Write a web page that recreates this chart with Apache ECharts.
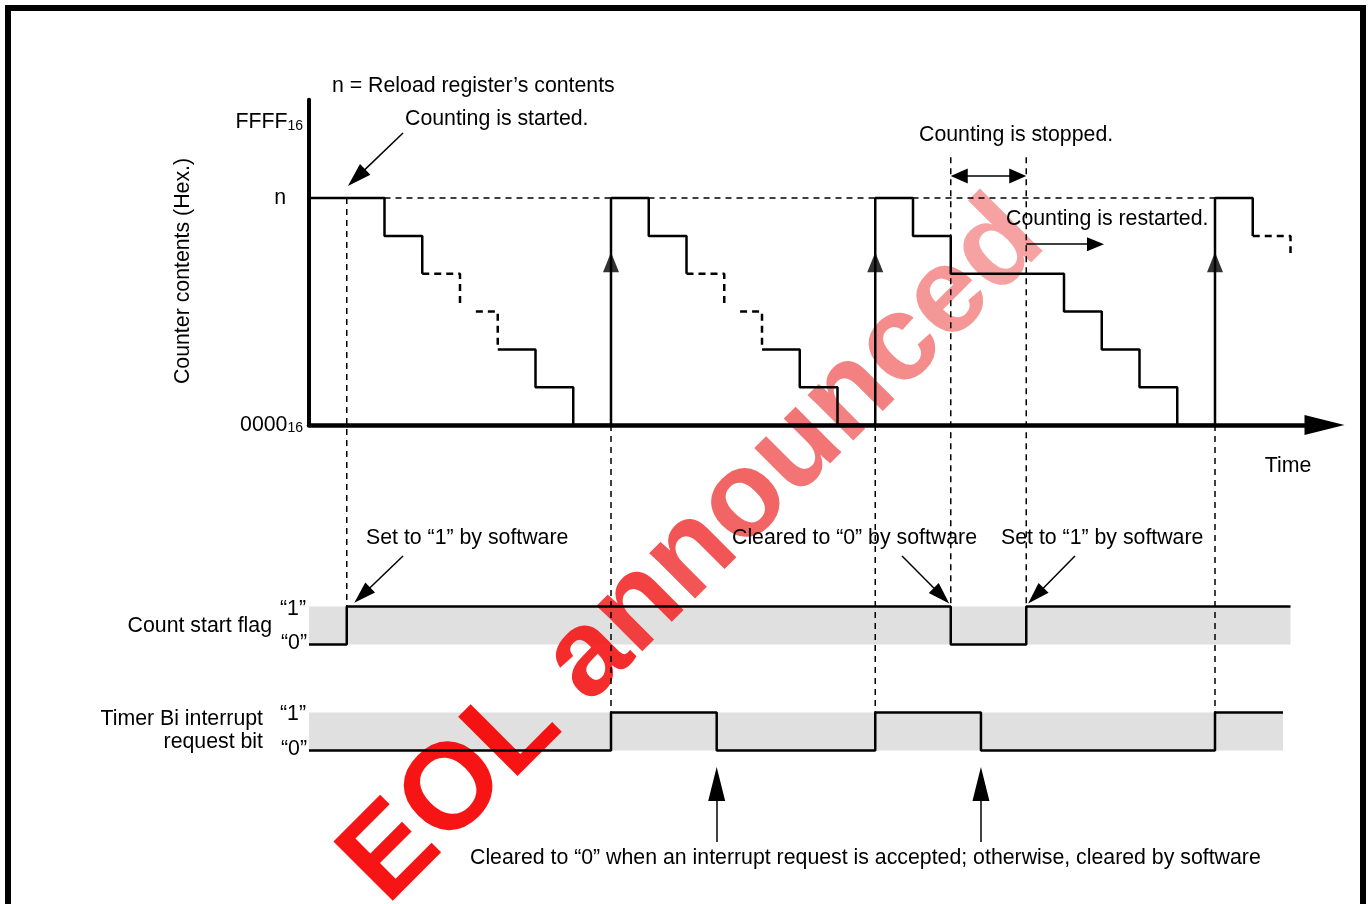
<!DOCTYPE html>
<html><head><meta charset="utf-8">
<script src="https://cdn.jsdelivr.net/npm/echarts@6/dist/echarts.min.js"></script>
<style>html,body{margin:0;padding:0;background:#fff}#c{width:1370px;height:904px}</style>
</head><body><div id="c"></div>
<script>
// ---------------- values ----------------
// time is measured in counter-clock steps, counter value in steps (n = 6 steps, FFFF = 8)
const yTickText = {8: 'FFFF', 6: 'n', 0: '0000'};
const counterSolid1 = [[0,6],[2,6],[2,5],[3,5],[3,4]];
const counterDash1a = [[3,4],[4,4],[4,3.22]];
const counterDash1b = [[4.42,3],[5,3],[5,2]];
const counterSolid2 = [[5,2],[6,2],[6,1],[7,1],[7,0],[8,0],[8,6],[9,6],[9,5],[10,5],[10,4]];
const counterDash2a = [[10,4],[11,4],[11,3.22]];
const counterDash2b = [[11.42,3],[12,3],[12,2]];
const counterSolid3 = [[12,2],[13,2],[13,1],[14,1],[14,0],[15,0],[15,6],[16,6],[16,5],[17,5],[17,4],[20,4],[20,3],[21,3],[21,2],[22,2],[22,1],[23,1],[23,0],[24,0],[24,6],[25,6],[25,5]];
const counterDash3 = [[25,5],[26,5],[26,4.55]];
const reloadLevelLine = [[2,6],[24,6]];
const reloadArrowHeads = [[8,4.3],[15,4.3],[24,4.3]];
// flag / interrupt-request bit (0/1 levels)
const flagWave = [[0,0],[1,0],[1,1],[17,1],[17,0],[19,0],[19,1],[26,1]];
const irqWave  = [[0,0],[8,0],[8,1],[10.8,1],[10.8,0],[15,0],[15,1],[17.8,1],[17.8,0],[24,0],[24,1],[25.8,1]];
const flagBandEnd = 26, irqBandEnd = 25.8;
const FLAG_BASE = -5.8, IRQ_BASE = -8.6;   // where each 0/1 track sits below the counter
// vertical dashed guides: [time, start level, end level]
const guides = [[1,6,FLAG_BASE+1],[8,0,IRQ_BASE+1],[15,0,IRQ_BASE+1],[17,7.08,FLAG_BASE+1],[19,7.08,FLAG_BASE+1],[24,0,IRQ_BASE+1]];
// annotation arrows [from, tip]
const startArrow   = [[2.49,7.72],[1.03,6.32]];
const stopArrow    = [[17,6.58],[19,6.58]];
const restartArrow = [[19,4.78],[21.06,4.78]];
const flagArrows   = [[[2.49,-3.46],[1.2,-4.7]], [[15.71,-3.46],[16.96,-4.72]], [[20.29,-3.46],[19.05,-4.72]]];
const irqArrows    = [[[10.8,-11.02],[10.8,-9.04]], [[17.8,-11.02],[17.8,-9.04]]];

// ---------------- layout ----------------
const UX = 37.75, UY = 37.83;
const X0 = 309, Y_TOP = 99.7, XMAX = 26.9, YMAX = 8.6, YMIN1 = -12;
const FONT = '"Liberation Sans", Arial, Helvetica, sans-serif';
const FS = 21.3;

function arrowItem(from, to, head, both) {
  const dx = (to[0]-from[0])*UX, dy = (to[1]-from[1])*UY, L = Math.hypot(dx,dy);
  const ox = head/2*dx/L/UX, oy = head/2*dy/L/UY;
  return {coords: [both ? [from[0]+ox, from[1]+oy] : from, [to[0]-ox, to[1]-oy]]};
}
function lineSeries(data, grid, dashed, width, z) {
  return {type:'line', xAxisIndex:grid, yAxisIndex:grid, data:data, showSymbol:false, symbol:'none',
    clip:false, silent:true, z:z||5, animation:false,
    lineStyle:{color:'#000', width:width||2.5, type: dashed ? dashed : 'solid'}};
}
function arrowSeries(items, size, both) {
  return {type:'lines', coordinateSystem:'cartesian2d', xAxisIndex:1, yAxisIndex:1, silent:true, z:6,
    symbol: both ? ['triangle','triangle'] : ['none','triangle'], symbolSize:[size,size],
    lineStyle:{color:'#000', width:1.5, opacity:1, curveness:0}, itemStyle:{color:'#000'},
    data: items, animation:false};
}
function txt(text, x, y, align, extra) {
  return Object.assign({type:'text', x:x, y:y, z:10, silent:true,
    style:{text:text, fill:'#000', fontSize:FS, fontFamily:FONT, align:align||'left', verticalAlign:'middle'}}, extra||{});
}

const series = [];
// grey level bands
series.push({type:'custom', xAxisIndex:1, yAxisIndex:1, z:1, silent:true, animation:false,
  data:[[0, flagBandEnd, FLAG_BASE, FLAG_BASE+1],[0, irqBandEnd, IRQ_BASE, IRQ_BASE+1]],
  renderItem:function(p, api){
    const a = api.coord([api.value(0), api.value(3)]), b = api.coord([api.value(1), api.value(2)]);
    return {type:'rect', shape:{x:a[0], y:a[1], width:b[0]-a[0], height:b[1]-a[1]}, style:{fill:'#e0e0e0'}};
  }});
// counter
[counterSolid1, counterSolid2, counterSolid3].forEach(d => series.push(lineSeries(d, 0, null, 2.5)));
[counterDash1a, counterDash1b, counterDash2a, counterDash2b, counterDash3].forEach(d => series.push(lineSeries(d, 0, [7,5], 2.5)));
series.push(lineSeries(reloadLevelLine, 0, [6,5], 1.5, 4));
series.push({type:'scatter', xAxisIndex:0, yAxisIndex:0, data:reloadArrowHeads, symbol:'triangle', symbolSize:[16,20],
  itemStyle:{color:'#000'}, silent:true, z:6, animation:false});
// guides
guides.forEach(g => series.push(lineSeries([[g[0],g[1]],[g[0],g[2]]], 1, [6,5], 1.5, 4)));
// flag and irq
series.push(lineSeries(flagWave.map(p => [p[0], FLAG_BASE + p[1]]), 1, null, 2.5));
series.push(lineSeries(irqWave.map(p => [p[0], IRQ_BASE + p[1]]), 1, null, 2.5));
// arrows
series.push(arrowSeries([arrowItem(startArrow[0], startArrow[1], 24)], [15,24]));
series.push(arrowSeries([arrowItem(stopArrow[0], stopArrow[1], 17, true)], [15,17], true));
series.push(arrowSeries([arrowItem(restartArrow[0], restartArrow[1], 17)], [14,17]));
series.push(arrowSeries(flagArrows.map(a => arrowItem(a[0], a[1], 22)), [14,22]));
series.push(arrowSeries(irqArrows.map(a => arrowItem(a[0], a[1], 34)), [17,34]));

const labelRich = {
  a:{fontSize:FS, fontFamily:FONT, color:'#000'},
  s:{fontSize:14, fontFamily:FONT, color:'#000', verticalAlign:'bottom'},
  n:{fontSize:FS, fontFamily:FONT, color:'#000', padding:[0,17,0,0]}
};

// watermark: per-letter colours fading from red to pink
const wmText = 'EOL announced';
const wmColors = ['#f60000','#f60000','#f60000','#f60000','#f41a1a','#f23030','#f04646','#f05858','#f16868','#f27676','#f38282','#f48e8e','#f59a9a'];
const wmRich = {};
let wmStr = '';
for (let i = 0; i < wmText.length; i++) {
  wmRich['c' + i] = {fill:wmColors[i], fontSize:122, fontWeight:'bold', fontFamily:FONT};
  wmStr += '{c' + i + '|' + wmText[i] + '}';
}

const option = {
  animation:false,
  backgroundColor:'#fff',
  grid:[
    {left:X0, top:Y_TOP, width:XMAX*UX, height:YMAX*UY, containLabel:false},
    {left:X0, top:Y_TOP, width:XMAX*UX, height:(YMAX-YMIN1)*UY, containLabel:false}
  ],
  xAxis:[
    {type:'value', gridIndex:0, min:0, max:XMAX, z:7,
      axisLine:{show:true, onZero:false, symbol:['none','triangle'], symbolSize:[20,40], lineStyle:{color:'#000', width:4.5}},
      axisTick:{show:false}, axisLabel:{show:false}, splitLine:{show:false}},
    {type:'value', gridIndex:1, min:0, max:XMAX, show:false, splitLine:{show:false}}
  ],
  yAxis:[
    {type:'value', gridIndex:0, min:0, max:YMAX, interval:2, z:7,
      axisLine:{show:true, lineStyle:{color:'#000', width:4}},
      axisTick:{show:false}, splitLine:{show:false},
      axisLabel:{show:true, margin:6, rich:labelRich, showMaxLabel:false,
        formatter:function(v){
          if (v === 6) return '{n|' + yTickText[6] + '}';
          if (yTickText[v] !== undefined) return '{a|' + yTickText[v] + '}{s|16}';
          return '';
        }}},
    {type:'value', gridIndex:1, min:YMIN1, max:YMAX, show:false, splitLine:{show:false}}
  ],
  graphic:[
    // frame
    {type:'polyline', z:10, silent:true, shape:{points:[[8,912],[8,8],[1363,8],[1363,912]]}, style:{stroke:'#000', lineWidth:6, fill:null}},
    // watermark
    {type:'text', x:694, y:552, rotation:Math.PI/4, z:2, silent:true,
      style:{text:wmStr, rich:wmRich, fontSize:122, fontWeight:'bold', fontFamily:FONT, align:'center', verticalAlign:'middle', opacity:0.92}},
    txt('n = Reload register’s contents', 332, 86),
    txt('Counting is started.', 405, 119),
    txt('Counting is stopped.', 919, 135),
    txt('Counting is restarted.', 1006, 219),
    txt('Time', 1288, 466, 'center'),
    txt('Counter contents (Hex.)', 183, 271, 'center', {rotation:Math.PI/2}),
    txt('Set to “1” by software', 366, 538),
    txt('Cleared to “0” by software', 732, 538),
    txt('Set to “1” by software', 1001, 538),
    txt('Count start flag', 272, 626, 'right'),
    txt('“1”', 306, 609, 'right'),
    txt('“0”', 307, 643, 'right'),
    txt('Timer Bi interrupt', 263, 719, 'right'),
    txt('request bit', 263, 742, 'right'),
    txt('“1”', 306, 714, 'right'),
    txt('“0”', 307, 749, 'right'),
    txt('Cleared to “0” when an interrupt request is accepted; otherwise, cleared by software', 470, 858)
  ],
  series:series
};

const chart = echarts.init(document.getElementById('c'), null, {renderer:'canvas'});
chart.setOption(option);
</script>
</body></html>
